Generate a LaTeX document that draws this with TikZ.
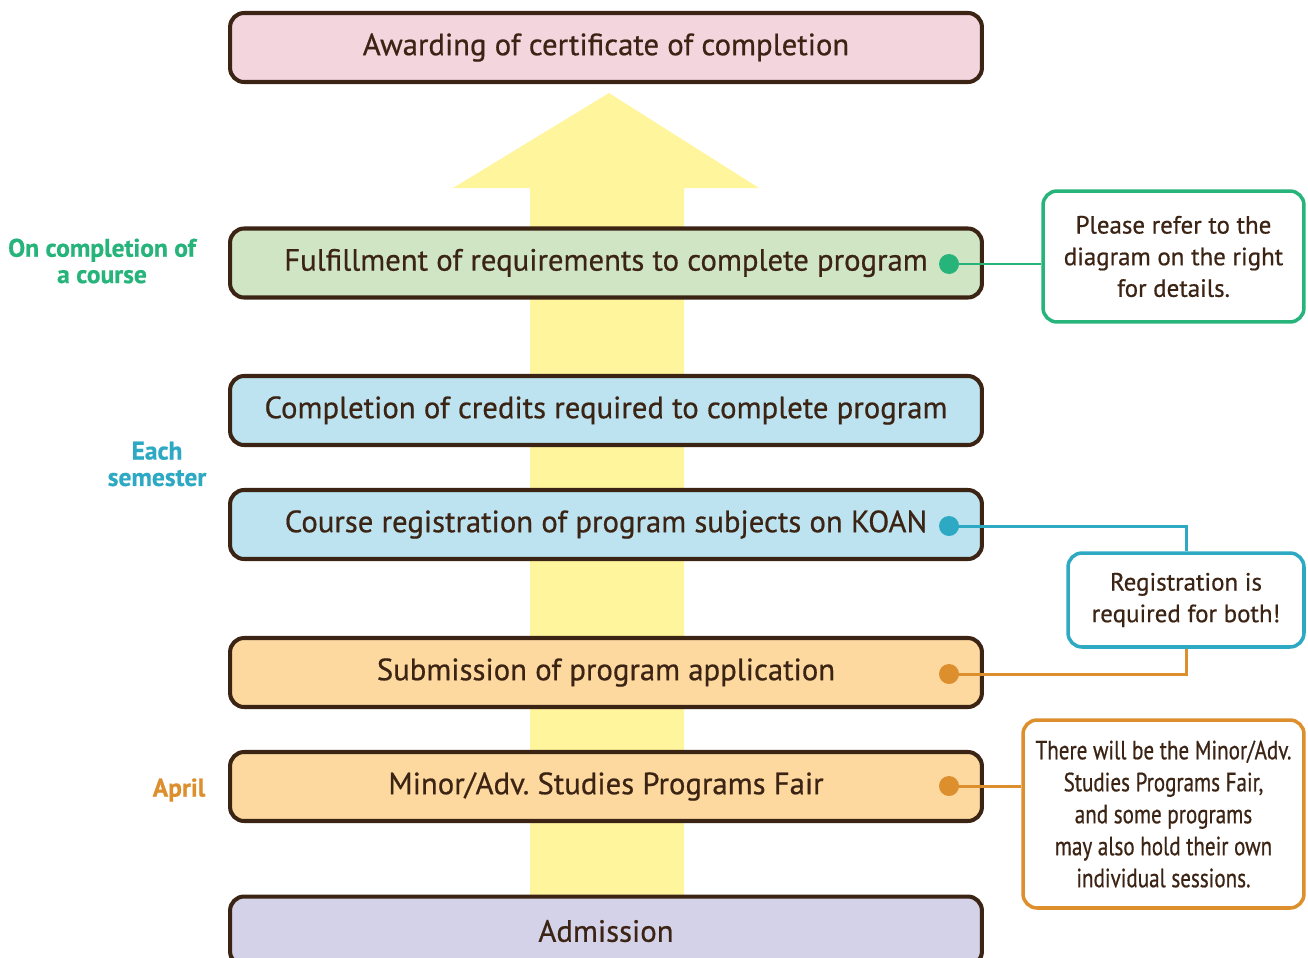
\documentclass[tikz,border=0pt]{standalone}
\usepackage{fontspec}
\setmainfont[FakeBold=0.6]{PT Sans}
\newfontfamily\narrowfont[FakeStretch=0.8,FakeBold=0.6]{PT Sans}
\usepackage{tikz}
\usetikzlibrary{positioning}
\frenchspacing

\definecolor{ink}{HTML}{3C2415}
\definecolor{pinkfill}{HTML}{F3D5DE}
\definecolor{greenfill}{HTML}{CFE5C4}
\definecolor{bluefill}{HTML}{BCE3EF}
\definecolor{orangefill}{HTML}{FDD9A0}
\definecolor{lilacfill}{HTML}{D4D2E8}
\definecolor{arrowfill}{HTML}{FFF59C}
\definecolor{greenmark}{HTML}{27B47A}
\definecolor{bluemark}{HTML}{2EA9C4}
\definecolor{orangemark}{HTML}{DC8F2C}

\tikzset{
  stage/.style={draw=ink, fill=#1, line width=2.3pt, rounded corners=8pt,
    minimum width=15.04cm, minimum height=1.38cm, inner sep=0pt,
    text=ink, font=\fontsize{17.5}{21}\selectfont},
  note/.style={draw=#1, fill=white, line width=2pt, rounded corners=8pt,
    inner sep=0pt, align=center, text=ink, font=\fontsize{14.2}{18}\selectfont},
  pin/.style={circle, fill=#1, minimum size=0.4cm, inner sep=0pt},
  link/.style={draw=#1, line width=1.7pt},
  when/.style={text=#1, font=\bfseries\fontsize{14.5}{15}\selectfont, align=center}
}

\begin{document}
\begin{tikzpicture}[x=0.02cm, y=-0.02cm]
  \useasboundingbox (0,0) rectangle (1308,957);

  % the big upward arrow behind the stages
  \fill[arrowfill] (530,900) -- (530,188) -- (453,188) -- (609,93)
    -- (759,188) -- (684,188) -- (684,900) -- cycle;

  \node[stage=pinkfill]   (award)  at (606,47.5)  {Awarding of certificate of completion};
  \node[stage=greenfill]  (fulfil) at (606,263)   {Fulfillment of requirements to complete program};
  \node[stage=bluefill]   (credit) at (606,410.5) {Completion of credits required to complete program};
  \node[stage=bluefill]   (reg)    at (606,524.5) {Course registration of program subjects on KOAN};
  \node[stage=orangefill] (apply)  at (606,672.5) {Submission of program application};
  \node[stage=orangefill] (fair)   at (606,786.5) {Minor/Adv. Studies Programs Fair};
  \node[stage=lilacfill]  (admit)  at (606,931)   {Admission};

  % timing labels
  \node[when=greenmark]  (tcourse) at (102,261) {On completion of\\a course};
  \node[when=bluemark]   (tsem)    at (157,464) {Each\\semester};
  \node[when=orangemark] (tapril)  at (179,790) {April};

  % side notes
  \node[note=greenmark, minimum width=5.22cm, minimum height=2.62cm]
    (ndetail) at (1173.5,256.5) {Please refer to the\\diagram on the right\\for details.};
  \node[note=bluemark, minimum width=4.72cm, minimum height=1.88cm]
    (nboth) at (1186,600) {Registration is\\required for both!};
  \node[note=orangemark, minimum width=5.62cm, minimum height=3.76cm,
    font=\narrowfont\fontsize{15}{18.2}\selectfont]
    (nfair) at (1163.5,814) {There will be the Minor/Adv.\\Studies Programs Fair,\\and some programs\\may also hold their own\\individual sessions.};

  \coordinate (p1) at (949,264);
  \coordinate (p2) at (949,526);
  \coordinate (p3) at (949,674);
  \coordinate (p4) at (949,786);

  \draw[link=greenmark]  (p1) -- (p1 -| ndetail.west);
  \draw[link=bluemark]   (p2) -| (nboth.north);
  \draw[link=orangemark] (p3) -| (nboth.south);
  \draw[link=orangemark] (p4) -- (p4 -| nfair.west);

  \node[pin=greenmark]  (d1) at (p1) {};
  \node[pin=bluemark]   (d2) at (p2) {};
  \node[pin=orangemark] (d3) at (p3) {};
  \node[pin=orangemark] (d4) at (p4) {};
\end{tikzpicture}
\end{document}
